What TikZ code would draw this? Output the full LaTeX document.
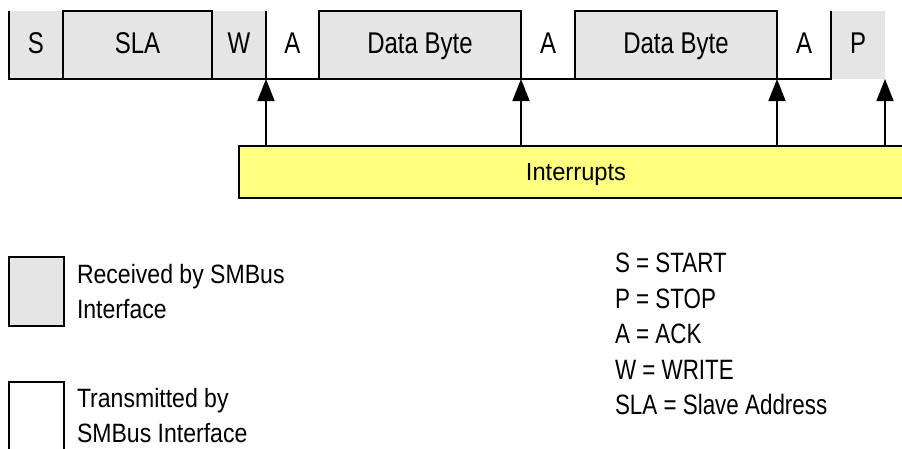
\documentclass[tikz,border=0pt]{standalone}
\usepackage{fontspec}
\setmainfont[FakeStretch=0.8]{Liberation Sans}
\newfontfamily\irqfont[FakeStretch=0.96]{Liberation Sans}
\newfontfamily\legfont[FakeStretch=0.87]{Liberation Sans}
\definecolor{RcvGray}{RGB}{229,229,229}
\definecolor{IrqYellow}{RGB}{255,255,128}
\usetikzlibrary{positioning,arrows.meta}

\begin{document}
\begin{tikzpicture}[x=1pt, y=-1pt,
      every node/.style={inner sep=0pt, outer sep=0pt},
      field/.style={minimum height=68pt, text height=22pt, text depth=5.4pt, font=\fontsize{30}{36}\selectfont},
      rcv/.style={field, fill=RcvGray},
      xmt/.style={field},
      irqbox/.style={draw, fill=IrqYellow, line width=1.6pt, minimum width=674pt, minimum height=52pt, text height=18pt, text depth=2pt, font=\irqfont\fontsize{24.7}{30}\selectfont},
      legbox/.style={draw, line width=1.6pt, minimum width=55pt, minimum height=69pt},
      legtext/.style={align=left, font=\legfont\fontsize{26.5}{35}\selectfont},
      line/.style={line width=1.6pt},
      arr/.style={-{Triangle[length=22pt, width=17pt]}, line width=1.6pt}
  ]
    \useasboundingbox (0,0) rectangle (902,448);
    \clip (0,0) rectangle (902,448);
    % frame fields
    \node[rcv, minimum width=54pt] (s) at (36,45) {S};
    \node[rcv, minimum width=149pt, right=0pt of s] (sla) {SLA};
    \node[rcv, minimum width=54pt, right=0pt of sla] (w) {W};
    \node[xmt, minimum width=53pt, right=0pt of w] (a1) {A};
    \node[rcv, minimum width=202pt, right=0pt of a1] (db1) {Data Byte};
    \node[xmt, minimum width=54pt, right=0pt of db1] (a2) {A};
    \node[rcv, minimum width=202pt, right=0pt of a2] (db2) {Data Byte};
    \node[xmt, minimum width=54pt, right=0pt of db2] (a3) {A};
    \node[rcv, minimum width=54pt, right=0pt of a3] (p) {P};
    \draw[line] (s.north west) -- (s.south west) -- (a3.south east) -- (a3.north east);
    \draw[line] (sla.south west) rectangle (sla.north east);
    \draw[line] (db1.south west) rectangle (db1.north east);
    \draw[line] (db2.south west) rectangle (db2.north east);
    \draw[line] (w.north east) -- (w.south east);
    % interrupts
    \node[irqbox] (irq) at (576,172) {Interrupts};
    \draw[arr] (w.south east |- irq.north) -- (w.south east);
    \draw[arr] (db1.south east |- irq.north) -- (db1.south east);
    \draw[arr] (db2.south east |- irq.north) -- (db2.south east);
    \draw[arr] (p.south east |- irq.north) -- (p.south east);
    % legend
    \node[legbox, fill=RcvGray] (lrcv) at (36.5,291.5) {};
    \node[legtext, right=13pt of lrcv] (trcv) {Received by SMBus\\Interface};
    \node[legbox] (lxmt) at (36.5,416.5) {};
    \node[legtext, right=13pt of lxmt, yshift=1pt] (txmt) {Transmitted by\\SMBus Interface};
    \node[legtext, font=\fontsize{28}{35.5}\selectfont, anchor=north west] (abbr) at (615,253)
      {S = START\\P = STOP\\A = ACK\\W = WRITE\\SLA = Slave Address};
  \end{tikzpicture}
\end{document}
